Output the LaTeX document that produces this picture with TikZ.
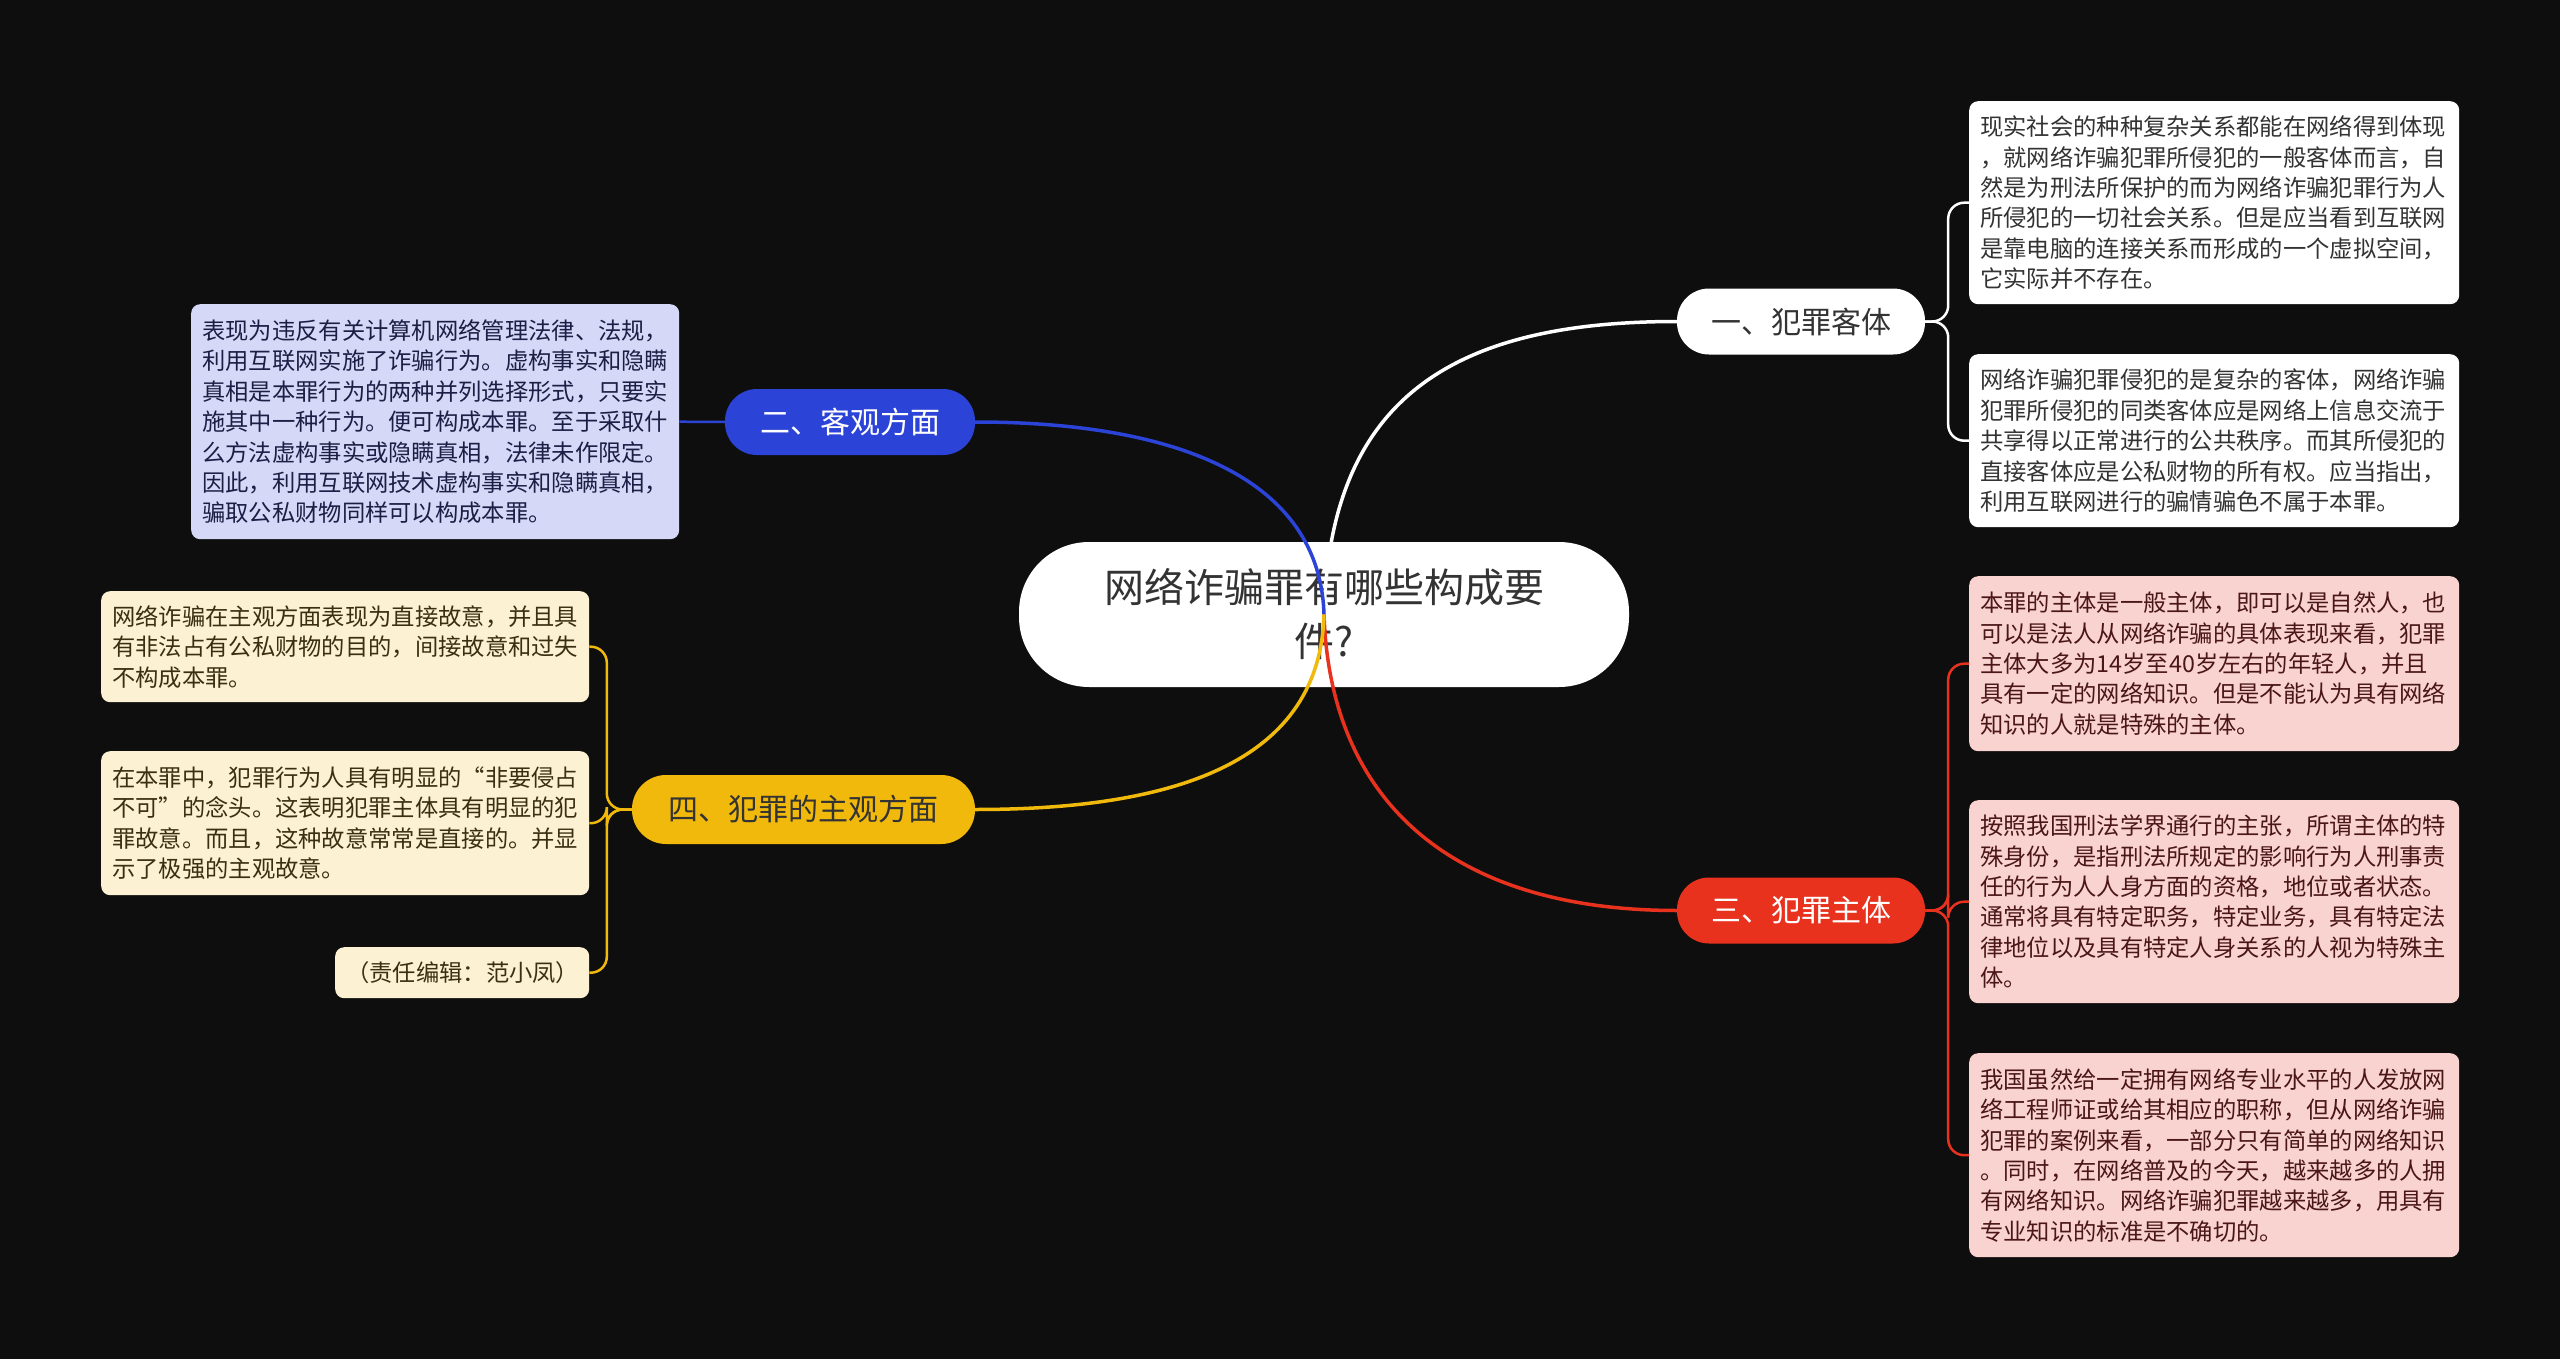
\documentclass[tikz,border=0pt]{standalone}
\usepackage{fontspec}
\setmainfont{Noto Sans CJK SC}
\definecolor{bg}{HTML}{0E0E0E}
\definecolor{bblue}{HTML}{2B43D6}
\definecolor{bred}{HTML}{E8321E}
\definecolor{byel}{HTML}{F0B90C}
\definecolor{lblue}{HTML}{D5D8F6}
\definecolor{lred}{HTML}{F9D3D0}
\definecolor{lyel}{HTML}{FDF1D4}
\definecolor{tdark}{HTML}{333333}
\definecolor{tblue}{HTML}{1C1F45}
\definecolor{tred}{HTML}{4A1616}
\definecolor{tyel}{HTML}{3A3010}
\begin{document}
\begin{tikzpicture}[x=1pt,y=-1pt,
  leaf/.style={anchor=north west, rounded corners=9pt, inner xsep=11pt, inner ysep=0pt,
    text width=468pt, align=left, font=\fontsize{23.3}{30.4}\selectfont},
  branch/.style={rounded corners=32pt, inner sep=0pt, minimum height=66pt,
    font=\fontsize{30}{36}\selectfont},
  conn/.style={line width=3.5pt},
  subconn/.style={line width=2.5pt, rounded corners=16pt}
]
\useasboundingbox (0,0) rectangle (2560,1359);
\fill[bg] (0,0) rectangle (2560,1359);

% leaves right
\node[leaf, fill=white, text=tdark, minimum height=203pt] (r1) at (1969,101) {现实社会的种种复杂关系都能在网络得到体现\\，就网络诈骗犯罪所侵犯的一般客体而言，自\\然是为刑法所保护的而为网络诈骗犯罪行为人\\所侵犯的一切社会关系。但是应当看到互联网\\是靠电脑的连接关系而形成的一个虚拟空间，\\它实际并不存在。};
\node[leaf, fill=white, text=tdark, minimum height=173pt] (r2) at (1969,354) {网络诈骗犯罪侵犯的是复杂的客体，网络诈骗\\犯罪所侵犯的同类客体应是网络上信息交流于\\共享得以正常进行的公共秩序。而其所侵犯的\\直接客体应是公私财物的所有权。应当指出，\\利用互联网进行的骗情骗色不属于本罪。};
\node[leaf, fill=lred, text=tred, minimum height=175pt] (s1) at (1969,576) {本罪的主体是一般主体，即可以是自然人，也\\可以是法人从网络诈骗的具体表现来看，犯罪\\主体大多为14岁至40岁左右的年轻人，并且\\具有一定的网络知识。但是不能认为具有网络\\知识的人就是特殊的主体。};
\node[leaf, fill=lred, text=tred, minimum height=203pt] (s2) at (1969,800) {按照我国刑法学界通行的主张，所谓主体的特\\殊身份，是指刑法所规定的影响行为人刑事责\\任的行为人人身方面的资格，地位或者状态。\\通常将具有特定职务，特定业务，具有特定法\\律地位以及具有特定人身关系的人视为特殊主\\体。};
\node[leaf, fill=lred, text=tred, minimum height=204pt] (s3) at (1969,1053) {我国虽然给一定拥有网络专业水平的人发放网\\络工程师证或给其相应的职称，但从网络诈骗\\犯罪的案例来看，一部分只有简单的网络知识\\。同时，在网络普及的今天，越来越多的人拥\\有网络知识。网络诈骗犯罪越来越多，用具有\\专业知识的标准是不确切的。};

% leaves left
\node[leaf, fill=lblue, text=tblue, minimum height=235pt, text width=466pt] (o1) at (191,304) {表现为违反有关计算机网络管理法律、法规，\\利用互联网实施了诈骗行为。虚构事实和隐瞒\\真相是本罪行为的两种并列选择形式，只要实\\施其中一种行为。便可构成本罪。至于采取什\\么方法虚构事实或隐瞒真相，法律未作限定。\\因此，利用互联网技术虚构事实和隐瞒真相，\\骗取公私财物同样可以构成本罪。};
\node[leaf, fill=lyel, text=tyel, minimum height=111pt, text width=466pt] (y1) at (101,591) {网络诈骗在主观方面表现为直接故意，并且具\\有非法占有公私财物的目的，间接故意和过失\\不构成本罪。};
\node[leaf, fill=lyel, text=tyel, minimum height=144pt, text width=466pt] (y2) at (101,751) {在本罪中，犯罪行为人具有明显的“非要侵占\\不可”的念头。这表明犯罪主体具有明显的犯\\罪故意。而且，这种故意常常是直接的。并显\\示了极强的主观故意。};
\node[leaf, fill=lyel, text=tyel, minimum height=51pt, text width=232pt, align=center] (y3) at (335,947) {（责任编辑：范小凤）};

% branches
\node[branch, fill=white, text=tdark, minimum width=248pt] (b1) at (1801,321.5) {一、犯罪客体};
\node[branch, fill=bblue, text=white, minimum width=250pt] (b2) at (850,422) {二、客观方面};
\node[branch, fill=bred, text=white, minimum width=248pt] (b3) at (1801,910.5) {三、犯罪主体};
\node[branch, fill=byel, text=tdark, minimum width=343pt, minimum height=69pt, rounded corners=34pt] (b4) at (803.5,809.5) {四、犯罪的主观方面};

% center
\node[fill=white, text=tdark, rounded corners=70pt, minimum width=610pt, minimum height=145pt,
  inner sep=0pt, align=center, font=\fontsize{40}{54}\selectfont] (c) at (1324,614.5)
  {网络诈骗罪有哪些构成要\\件?};

% main connectors
\draw[conn, white] (c.center) .. controls (1330,400) and (1450,321.5) .. (b1.west);
\draw[conn, bblue] (c.center) .. controls (1320,480) and (1180,422) .. (b2.east);
\draw[conn, bred] (c.center) .. controls (1330,800) and (1450,910.5) .. (b3.west);
\draw[conn, byel] (c.center) .. controls (1320,760) and (1180,809.5) .. (b4.east);

% sub connectors
\draw[subconn, white] (b1.east) -- ++(23,0) |- (r1.west);
\draw[subconn, white] (b1.east) -- ++(23,0) |- (r2.west);
\draw[subconn, bred] (b3.east) -- ++(23,0) |- (s1.west);
\draw[subconn, bred] (b3.east) -- ++(23,0) |- (s2.west);
\draw[subconn, bred] (b3.east) -- ++(23,0) |- (s3.west);
\draw[subconn, bblue] (b2.west) -- (o1.east);
\draw[subconn, byel] (b4.west) -- ++(-25,0) |- (y1.east);
\draw[subconn, byel] (b4.west) -- ++(-25,0) |- (y2.east);
\draw[subconn, byel] (b4.west) -- ++(-25,0) |- (y3.east);
\end{tikzpicture}
\end{document}
